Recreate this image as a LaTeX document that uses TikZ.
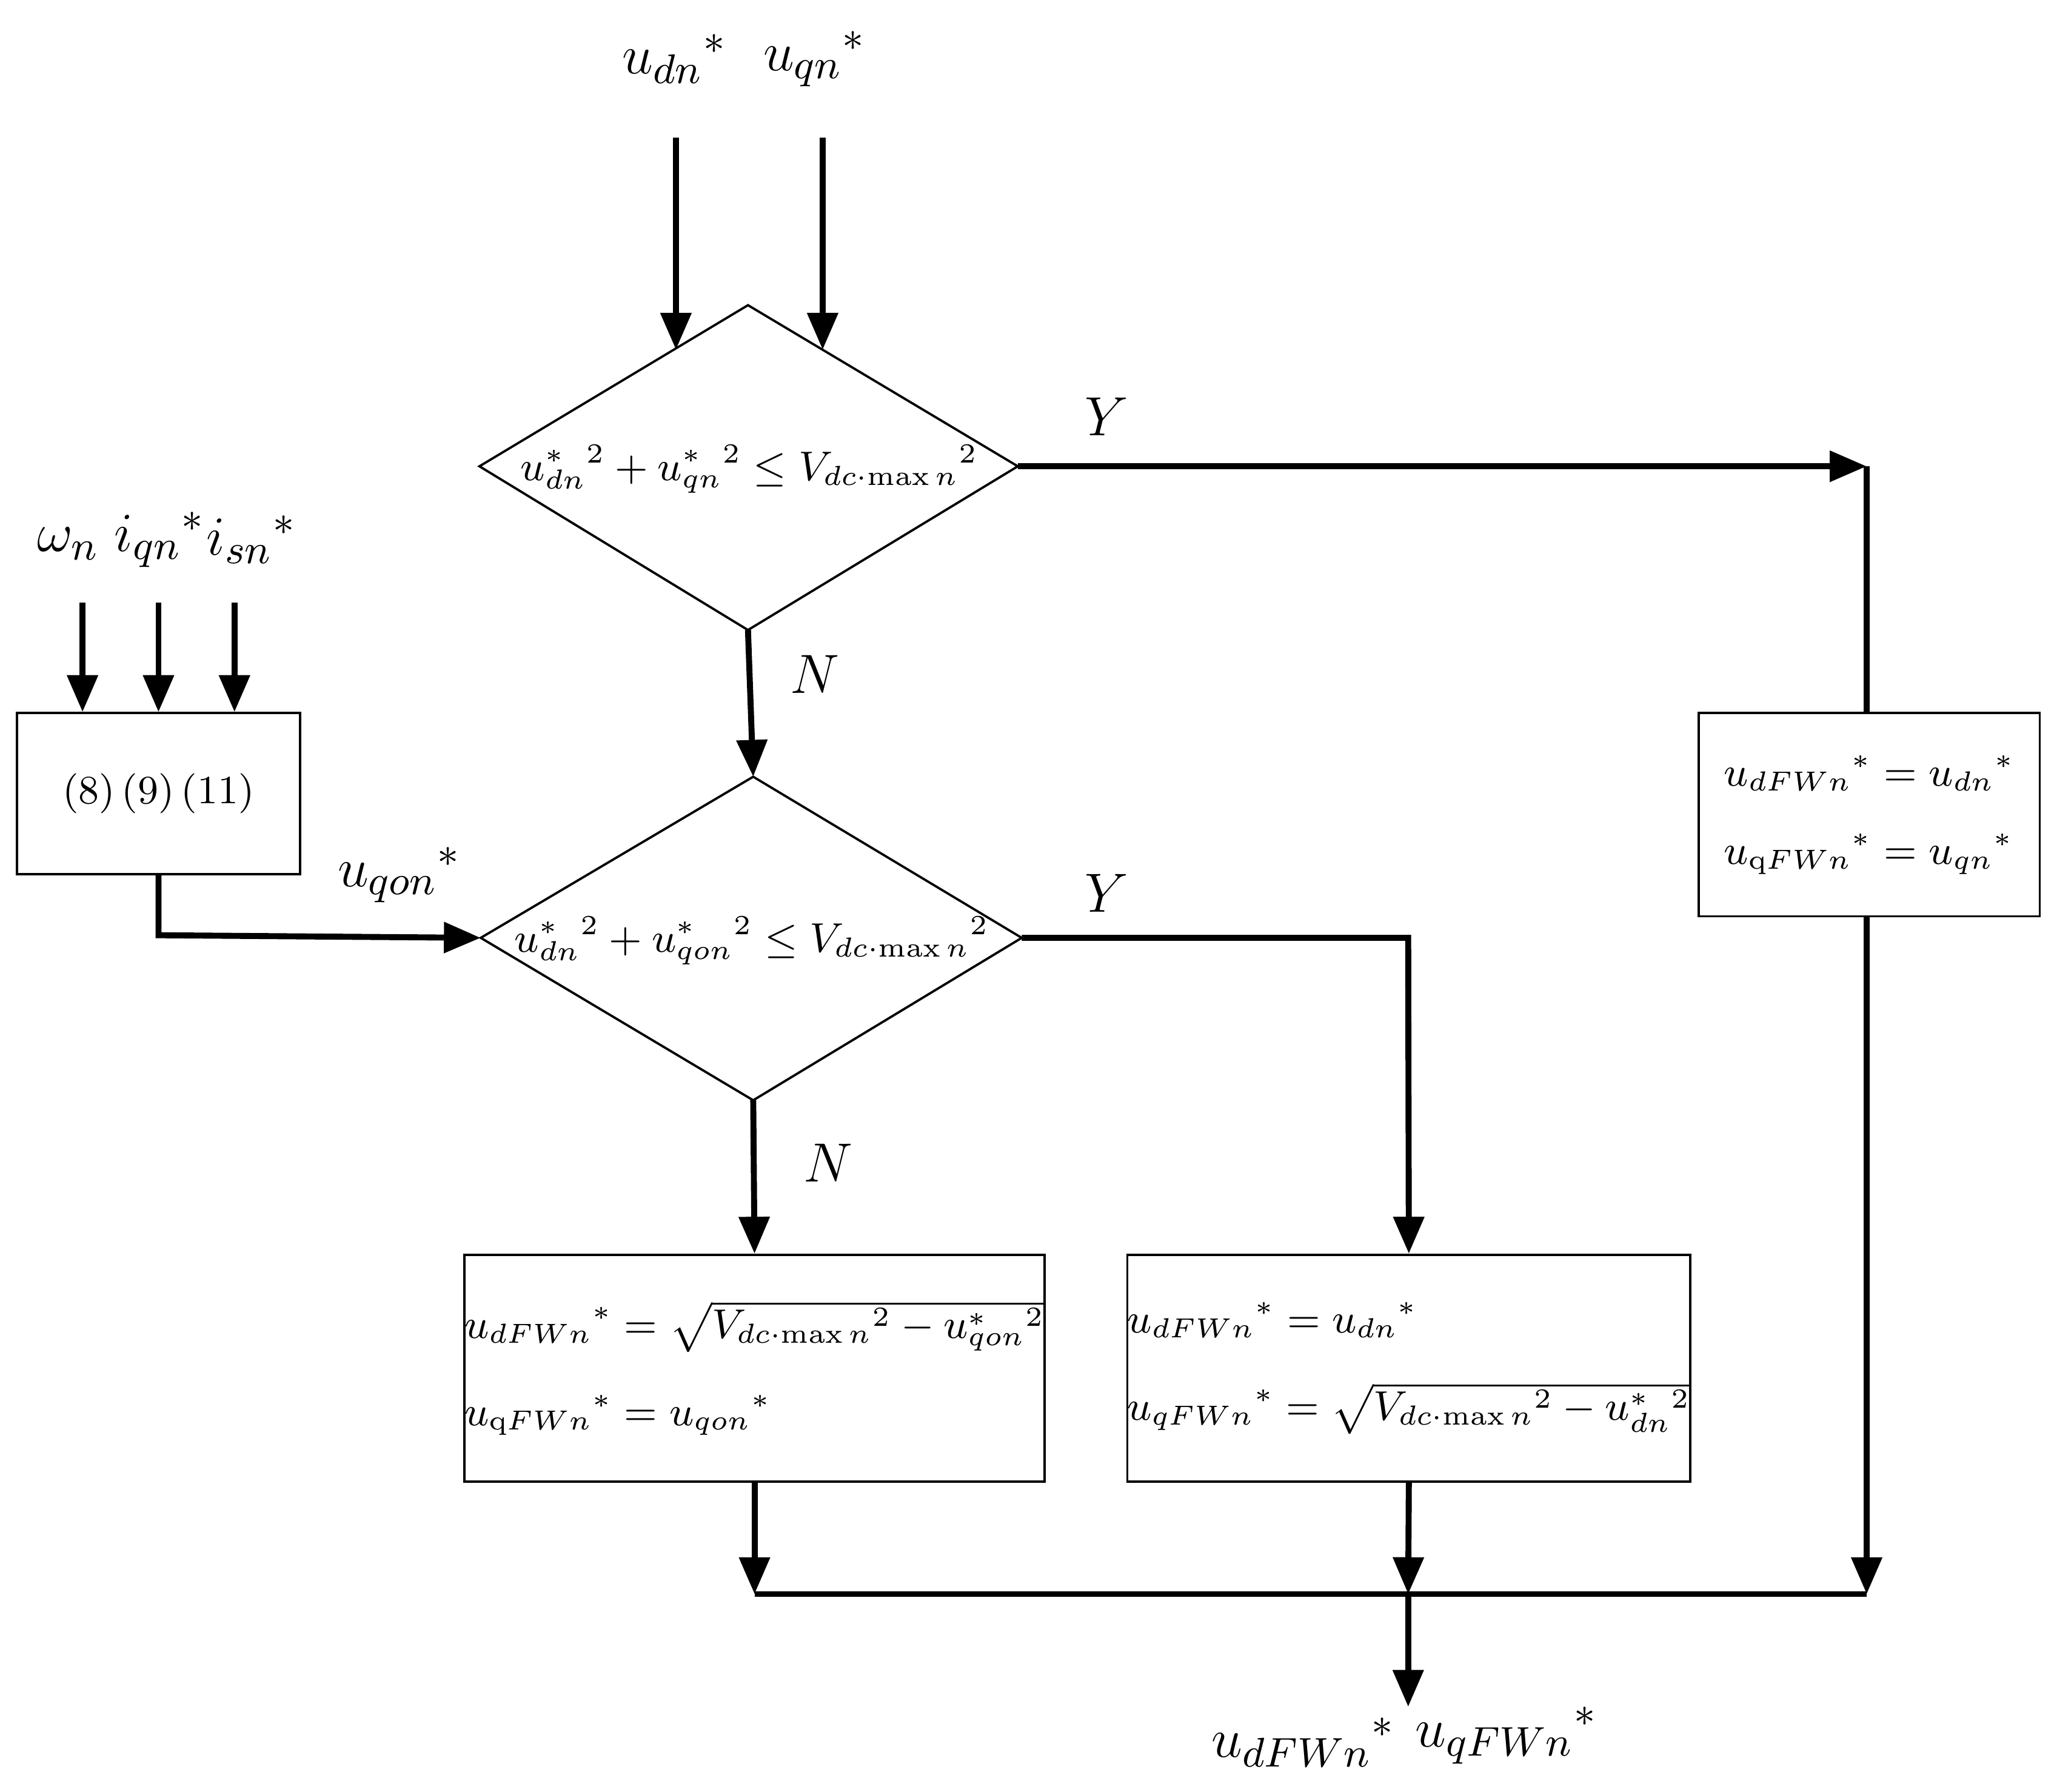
\documentclass[tikz,border=0pt]{standalone}
\usepackage{amsmath}
\usetikzlibrary{arrows.meta}
\begin{document}
\begin{tikzpicture}[x=0.01cm,y=-0.01cm,
  ln/.style={line width=1.3pt},
  ar/.style={ln,-{Triangle[length=8pt,width=6.5pt]}},
  box/.style={draw,line width=0.5pt,inner sep=0pt},
  big/.style={font=\fontsize{13}{16}\selectfont},
  med/.style={font=\fontsize{8.7}{11}\selectfont}]
\useasboundingbox (0,0) rectangle (1568,1368);
% top inputs
\node[big] (udn) at (515,45) {$u_{dn}{}^{*}$};
\node[big] (uqn) at (622,45) {$u_{qn}{}^{*}$};
\coordinate (a1) at (516,105); \coordinate (a2) at (628,105);
\coordinate (b1) at (516,267); \coordinate (b2) at (628,267);
\draw[ar] (a1)--(b1); \draw[ar] (a2)--(b2);
% diamond 1
\coordinate (d1t) at (571,233); \coordinate (d1b) at (571,481);
\coordinate (d1l) at (366,356); \coordinate (d1r) at (777,356);
\draw[line width=0.5pt] (d1t)--(d1r)--(d1b)--(d1l)--cycle;
\node[med] (d1) at (572,358) {$u^{*}_{dn}{}^{2}+u^{*}_{qn}{}^{2}\le V_{dc\cdot\max n}{}^{2}$};
\coordinate (r1) at (1425,356);
\draw[ar] (d1r)--(r1);
\node[big] (Y1) at (845,318) {$Y$};
% box 3
\node[box,med,minimum width=2.60cm,minimum height=1.55cm,align=left] (b3) at (1427,622)
 {$u_{dFWn}{}^{*}=u_{dn}{}^{*}$\\[6pt]$u_{\mathrm{q}FWn}{}^{*}=u_{qn}{}^{*}$};
\draw[ln] (r1)--(b3.north-|r1);
\coordinate (j3) at (1425,1217);
\draw[ar] (b3.south-|r1)--(j3);
% N1
\node[big] (N1) at (622,515) {$N$};
\coordinate (d2t) at (575,593); \coordinate (d2b) at (575,840);
\coordinate (d2l) at (367,716); \coordinate (d2r) at (780,716);
\draw[ar] (d1b)--(d2t);
\draw[line width=0.5pt] (d2t)--(d2r)--(d2b)--(d2l)--cycle;
\node[med] (d2) at (574,718) {$u^{*}_{dn}{}^{2}+u^{*}_{qon}{}^{2}\le V_{dc\cdot\max n}{}^{2}$};
% left inputs
\node[big] (w) at (52,415) {$\omega_n$};
\node[big] (iq) at (122,412) {$i_{qn}{}^{*}$};
\node[big] (is) at (192,412) {$i_{sn}{}^{*}$};
\node[box,med,minimum width=2.16cm,minimum height=1.23cm] (b0) at (121,606) {(8)\,(9)\,(11)};
\foreach \x/\n in {63/p1,121/p2,179/p3}{
  \coordinate (\n) at (\x,460);
  \draw[ar] (\n)--(\n|-b0.north);}
\coordinate (k1) at (121,714);
\draw[ar] (b0.south)--(k1)--(d2l);
\node[big] (uqon) at (305,668) {$u_{qon}{}^{*}$};
% Y2
\node[big] (Y2) at (845,682) {$Y$};
\coordinate (k2) at (1075,716);
\node[box,med,minimum width=3.93cm,minimum height=1.73cm,align=left] (bB) at (1075.5,1044.5)
 {$u_{dFWn}{}^{*}=u_{dn}{}^{*}$\\[8pt]$u_{qFWn}{}^{*}=\sqrt{V_{dc\cdot\max n}{}^{2}-u^{*}_{dn}{}^{2}}$};
\draw[ar] (d2r)--(k2)--(bB.north);
% N2
\node[big] (N2) at (632,888) {$N$};
\node[box,med,minimum width=4.04cm,minimum height=1.73cm,align=left] (bA) at (576,1044.5)
 {$u_{dFWn}{}^{*}=\sqrt{V_{dc\cdot\max n}{}^{2}-u^{*}_{qon}{}^{2}}$\\[8pt]$u_{\mathrm{q}FWn}{}^{*}=u_{qon}{}^{*}$};
\draw[ar] (d2b)--(bA.north);
\coordinate (j1) at (576,1217); \coordinate (j2) at (1075,1217);
\draw[ar] (bA.south)--(j1);
\draw[ar] (bB.south)--(j2);
\draw[ln] (j1)--(j3);
\coordinate (o) at (1075,1303);
\draw[ar] (j2)--(o);
\node[big] (o1) at (995,1330) {$u_{dFWn}{}^{*}$};
\node[big] (o2) at (1150,1325) {$u_{qFWn}{}^{*}$};
\end{tikzpicture}
\end{document}
